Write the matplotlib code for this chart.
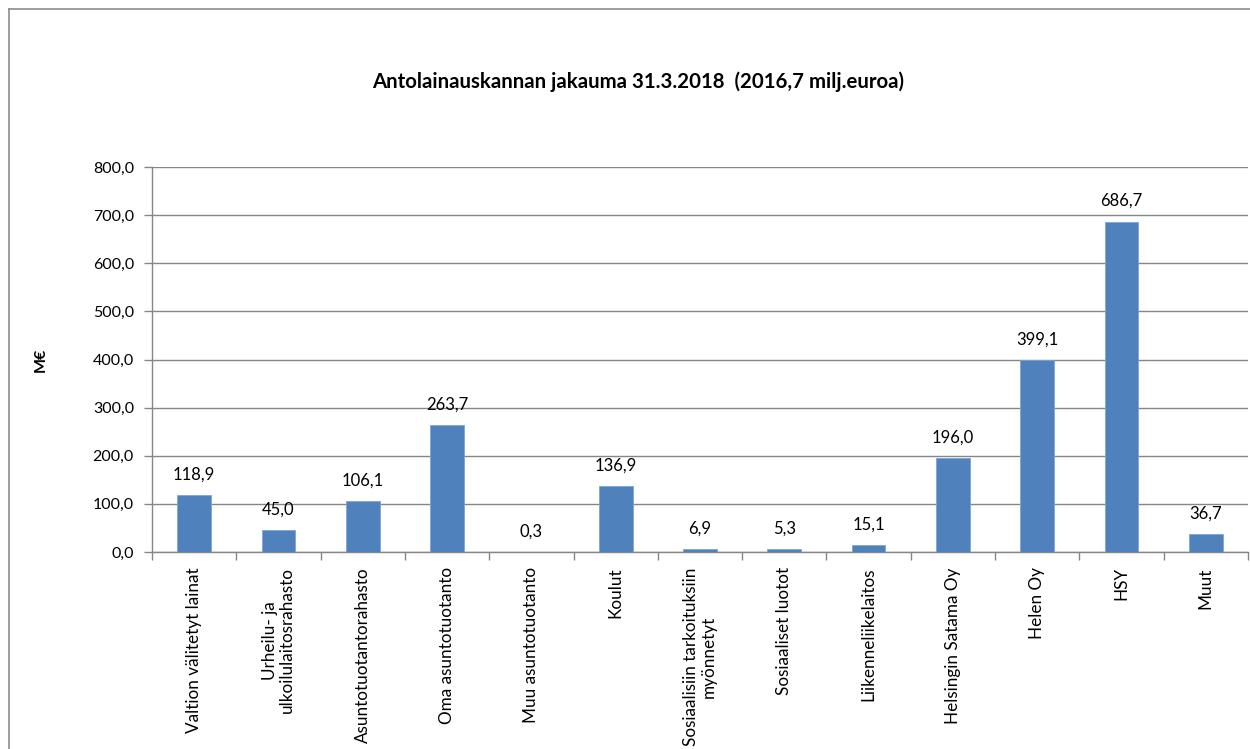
import numpy as np
import matplotlib.pyplot as plt
from matplotlib.lines import Line2D
from matplotlib.ticker import FixedLocator, FuncFormatter

plt.rcParams['font.family'] = ['Lato', 'DejaVu Sans']

# Chart data
categories = [
    'Valtion välitetyt lainat',
    'Urheilu- ja\nulkoilulaitosrahasto',
    'Asuntotuotantorahasto',
    'Oma asuntotuotanto',
    'Muu asuntotuotanto',
    'Koulut',
    'Sosiaalisiin tarkoituksiin\nmyönnetyt',
    'Sosiaaliset luotot',
    'Liikenneliikelaitos',
    'Helsingin Satama Oy',
    'Helen Oy',
    'HSY',
    'Muut',
]
values = [118.9, 45.0, 106.1, 263.7, 0.3, 136.9, 6.9, 5.3, 15.1, 196.0, 399.1, 686.7, 36.7]
y_ticks = [0, 100, 200, 300, 400, 500, 600, 700, 800]

title = 'Antolainauskannan jakauma 31.3.2018  (2016,7 milj.euroa)'
bar_color = '#4F81BD'
grid_color = '#868686'


def fi_num(v):
    return f"{v:.1f}".replace('.', ',')


fig = plt.figure(figsize=(12.5, 7.49), dpi=100)
ax = fig.add_axes([152 / 1250, 1 - 552 / 749, 1096 / 1250, 385 / 749])

x = np.arange(len(categories))
ax.bar(x, values, width=0.4, color=bar_color, edgecolor='#7FA4D4', linewidth=0.6, zorder=3)

# value labels above bars
for xi, v in zip(x, values):
    ax.annotate(fi_num(v), (xi, v), xytext=(0, 9), textcoords='offset points',
                ha='center', va='bottom', fontsize=12)

ax.set_xlim(-0.5, len(categories) - 0.5)
ax.set_ylim(0, 800)
ax.set_yticks(y_ticks)
ax.yaxis.set_major_formatter(FuncFormatter(lambda v, p: fi_num(v)))
ax.grid(axis='y', color=grid_color, linewidth=1, zorder=0)

ax.set_xticks(x)
ax.set_xticklabels(categories, rotation=90, fontsize=12.3, linespacing=1.1)
ax.xaxis.set_minor_locator(FixedLocator(np.arange(len(categories) + 1) - 0.5))
ax.tick_params(axis='x', which='major', length=0, pad=11)
ax.tick_params(axis='x', which='minor', length=6, color=grid_color, width=1)
ax.tick_params(axis='y', length=6, color=grid_color, width=1, labelsize=11.5, pad=7)

for side in ['top', 'right']:
    ax.spines[side].set_visible(False)
for side in ['left', 'bottom']:
    ax.spines[side].set_color(grid_color)
    ax.spines[side].set_linewidth(1)

ax.set_ylabel('M€', fontsize=11.5, fontweight='bold')
ax.yaxis.set_label_coords(-(152 - 48) / 1096, 0.5)

fig.text(638 / 1250, 1 - 82 / 749, title, ha='center', va='center',
         fontsize=14.7, fontweight='bold')

# outer chart border (top and left edges visible)
fig.add_artist(Line2D([9 / 1250, 1.0], [1 - 9 / 749, 1 - 9 / 749],
                      transform=fig.transFigure, color='#8c8c8c', linewidth=1.2))
fig.add_artist(Line2D([9 / 1250, 9 / 1250], [0.0, 1 - 9 / 749],
                      transform=fig.transFigure, color='#8c8c8c', linewidth=1.2))

fig.savefig('out.png', dpi=100)
